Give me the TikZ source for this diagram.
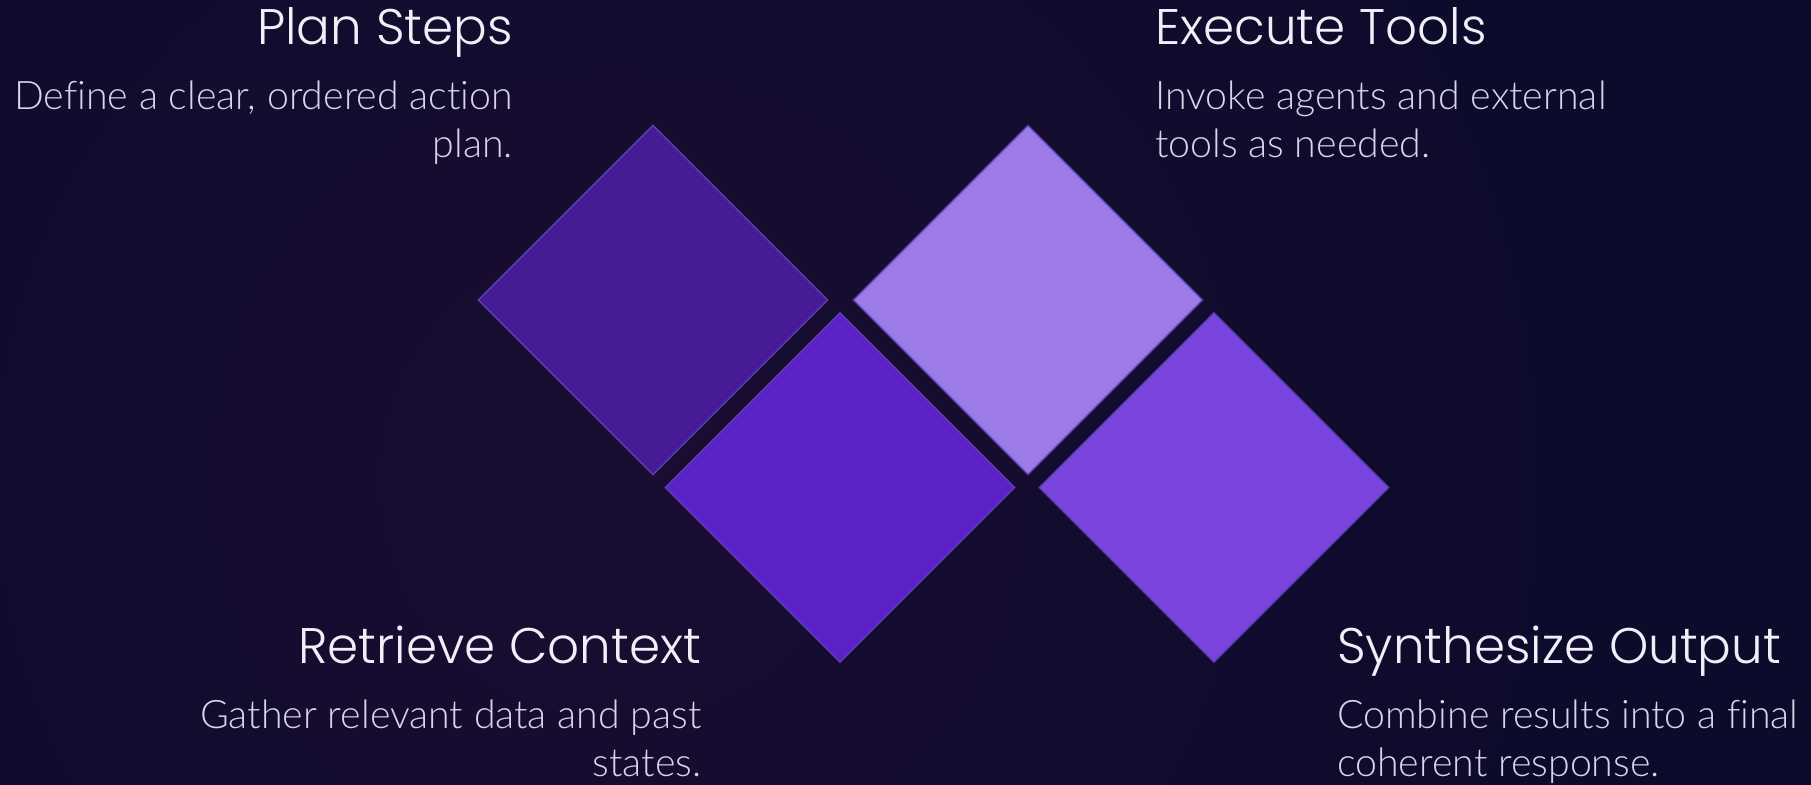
\documentclass[tikz,border=0pt]{standalone}
\usepackage{fontspec}
\usetikzlibrary{shapes.geometric}
\newfontfamily\headfont{Poppins Light}
\newfontfamily\bodyfont{Lato Light}[Ligatures=NoCommon]

\definecolor{bgbase}{HTML}{0D0B2C}
\definecolor{bgglow}{HTML}{1A0D32}
\definecolor{bgcorner}{HTML}{12103A}
\definecolor{tileA}{HTML}{451C96}
\definecolor{tileB}{HTML}{5B22C8}
\definecolor{tileC}{HTML}{9C7AE8}
\definecolor{tileD}{HTML}{7A45DE}
\definecolor{tileedge}{HTML}{5E3DB4}
\definecolor{headcol}{HTML}{F2EEF8}
\definecolor{bodycol}{HTML}{D9D5E8}

\tikzset{
  tile/.style={shape=diamond, aspect=1, inner sep=0pt, minimum width=350pt,
    minimum height=350pt, draw=tileedge, line width=1.4pt},
  head/.style={inner sep=0pt, text=headcol, font=\headfont\fontsize{50}{58}\selectfont},
  body/.style={inner sep=0pt, text=bodycol, font=\bodyfont\fontsize{39.3}{48}\selectfont},
}

\begin{document}
\begin{tikzpicture}[x=1pt,y=-1pt]
  \useasboundingbox (0,0) rectangle (1811,784);
  % background: navy base with a soft violet glow left of centre
  \fill[bgbase] (-4,-4) rectangle (1815,788);
  \begin{scope}
    \clip (-4,-4) rectangle (1815,788);
    \shade[inner color=bgcorner, outer color=bgbase] (0,0) circle (650);
    \shade[inner color=bgglow, outer color=bgbase] (620,480) circle (950);
  \end{scope}

  % the four tiles
  \node[tile, fill=tileA] (plan) at (653,300) {};
  \node[tile, fill=tileC] (execute) at (1028,300) {};
  \node[tile, fill=tileB] (retrieve) at (840,487.5) {};
  \node[tile, fill=tileD] (synth) at (1214,487.5) {};

  % captions
  \node[head, anchor=base east] (plan-t) at (513,45) {Plan Steps};
  \node[body, anchor=base east] (plan-l1) at (513,109) {Define a clear, ordered action};
  \node[body, anchor=base east] (plan-l2) at (513,157) {plan.};

  \node[head, anchor=base west] (exec-t) at (1155,45) {Execute Tools};
  \node[body, anchor=base west] (exec-l1) at (1155,109) {Invoke agents and external};
  \node[body, anchor=base west] (exec-l2) at (1155,157) {tools as needed.};

  \node[head, anchor=base east] (retr-t) at (701.5,663) {Retrieve Context};
  \node[body, anchor=base east] (retr-l1) at (701.5,728) {Gather relevant data and past};
  \node[body, anchor=base east] (retr-l2) at (701.5,776) {states.};

  \node[head, anchor=base west] (synth-t) at (1337,663) {Synthesize Output};
  \node[body, anchor=base west] (synth-l1) at (1337,728) {Combine results into a final};
  \node[body, anchor=base west] (synth-l2) at (1337,776) {coherent response.};
\end{tikzpicture}
\end{document}
